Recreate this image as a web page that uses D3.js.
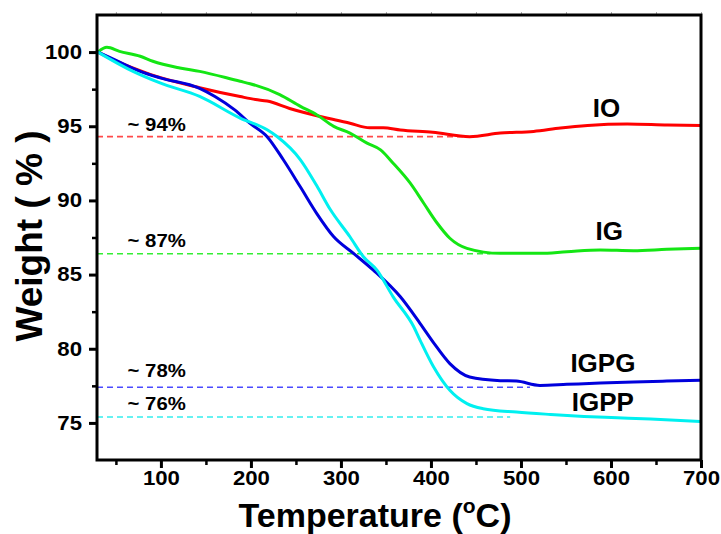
<!DOCTYPE html>
<html>
<head>
<meta charset="utf-8">
<script src="https://cdn.jsdelivr.net/npm/d3@7"></script>
<style>
  body { margin: 0; background: #fff; }
  text { font-family: "Liberation Sans", Arial, sans-serif; font-weight: bold; fill: #000; }
</style>
</head>
<body>
<script>
// TGA curves, temperature (°C) vs weight (%)
var ioTemp   = [30, 50, 88, 143, 188, 205, 218, 243, 288, 310, 332, 347, 366, 402, 443, 477, 514, 544, 574, 618, 663, 700];
var ioWeight = [100.0, 99.4, 98.5, 97.6, 97.0, 96.8, 96.7, 96.2, 95.5, 95.2, 94.9, 94.9, 94.75, 94.6, 94.3, 94.54, 94.65, 94.88, 95.05, 95.15, 95.08, 95.05];

var igTemp   = [30, 40, 54, 77, 91, 121, 143, 188, 199, 232, 255, 273, 292, 310, 329, 344, 358, 377, 392, 407, 421, 440, 477, 521, 551, 588, 625, 662, 700];
var igWeight = [100.0, 100.32, 100.05, 99.72, 99.38, 98.93, 98.7, 98.03, 97.87, 97.13, 96.34, 95.78, 94.99, 94.54, 93.86, 93.41, 92.51, 91.16, 89.81, 88.46, 87.45, 86.77, 86.43, 86.43, 86.54, 86.66, 86.61, 86.7, 86.77];

var igpgTemp   = [30, 43, 77, 99, 143, 160, 182, 199, 218, 236, 255, 273, 292, 314, 336, 366, 388, 403, 421, 443, 477, 495, 521, 551, 588, 625, 662, 700];
var igpgWeight = [100.0, 99.65, 98.7, 98.26, 97.55, 97.0, 96.1, 95.2, 94.3, 92.74, 90.9, 89.13, 87.55, 86.43, 85.3, 83.5, 81.7, 80.4, 79.0, 78.1, 77.85, 77.82, 77.53, 77.6, 77.69, 77.76, 77.82, 77.87];

var igppTemp   = [30, 69, 99, 143, 188, 218, 229, 255, 273, 288, 310, 325, 340, 358, 381, 388, 403, 421, 440, 458, 495, 533, 570, 607, 644, 700];
var igppWeight = [100.0, 98.7, 97.92, 97.01, 95.55, 94.76, 94.31, 92.74, 91.0, 89.4, 87.55, 86.2, 85.3, 83.5, 81.47, 80.57, 78.77, 77.2, 76.3, 75.96, 75.73, 75.57, 75.44, 75.35, 75.26, 75.1];

// series names, colours and where the name sits
var seriesNames  = ["IO", "IG", "IGPG", "IGPP"];
var seriesColors = ["#ff0000", "#14e614", "#0000dc", "#00f0f0"];
var nameTemp     = [595, 598, 591, 591];
var nameWeight   = [95.6, 87.35, 78.4, 75.8];

// residual-mass guide lines
var guideText   = ["~ 94%", "~ 87%", "~ 78%", "~ 76%"];
var guideLevel  = [94.3, 86.4, 77.4, 75.4];
var guideEnd    = [436, 466, 510, 488];
var guideColors = ["#ff4a4a", "#33ee33", "#4a4aff", "#33eeee"];
var guideLift   = [6, 7, 10, 7];

var xMajor = [100, 200, 300, 400, 500, 600, 700];
var xMinor = [50, 150, 250, 350, 450, 550, 650];
var yMajor = [75, 80, 85, 90, 95, 100];
var yMinor = [77.5, 82.5, 87.5, 92.5, 97.5];

// set the dimensions and margins of the graph
var margin = {top: 15, right: 20, bottom: 74, left: 97},
    width = 721 - margin.left - margin.right,
    height = 534 - margin.top - margin.bottom;

var svg = d3.select("body").append("svg")
    .attr("width", 721)
    .attr("height", 534)
  .append("g")
    .attr("transform", "translate(" + margin.left + "," + margin.top + ")");

var x = d3.scaleLinear().domain([29, 700]).range([0, width]);
var y = d3.scaleLinear().domain([72.5, 102.5]).range([height, 0]);

// dashed guides
guideLevel.forEach(function(lv, i) {
  svg.append("line")
      .attr("x1", x(29)).attr("x2", x(guideEnd[i]))
      .attr("y1", y(lv)).attr("y2", y(lv))
      .style("stroke", guideColors[i])
      .style("stroke-width", 1.6)
      .style("stroke-dasharray", "6,4");
  svg.append("text")
      .attr("transform", "translate(" + x(63) + "," + (y(lv) - guideLift[i]) + ") scale(1.13,1)")
      .attr("font-size", 18)
      .text(guideText[i]);
});

// curves
var line = d3.line()
    .x(function(d) { return x(d[0]); })
    .y(function(d) { return y(d[1]); })
    .curve(d3.curveMonotoneX);

var series = [
  d3.zip(ioTemp, ioWeight),
  d3.zip(igTemp, igWeight),
  d3.zip(igpgTemp, igpgWeight),
  d3.zip(igppTemp, igppWeight)
];

series.forEach(function(s, i) {
  svg.append("path")
      .datum(s)
      .attr("d", line)
      .style("fill", "none")
      .style("stroke", seriesColors[i])
      .style("stroke-width", 3)
      .style("stroke-linejoin", "round");
});

// series names
seriesNames.forEach(function(n, i) {
  svg.append("text")
      .attr("x", x(nameTemp[i]))
      .attr("y", y(nameWeight[i]))
      .attr("text-anchor", "middle")
      .attr("font-size", 26)
      .text(n);
});

// faint ticks on the top edge
svg.append("g")
    .call(d3.axisTop(x).tickValues(xMajor.concat(xMinor)).tickSize(3).tickFormat(""))
    .call(function(g) { g.select(".domain").remove(); })
    .selectAll("line").style("stroke", "#aaa").style("stroke-width", 1);

// bottom axis
var xAxis = svg.append("g")
    .attr("transform", "translate(0," + height + ")")
    .call(d3.axisBottom(x).tickValues(xMajor).tickSize(8).tickPadding(3));
xAxis.select(".domain").remove();
xAxis.selectAll("line").style("stroke-width", 3);
xAxis.selectAll("text")
    .attr("font-size", 20)
    .attr("font-family", null)
    .attr("transform", "scale(1.11,1)");

var xMinorAxis = svg.append("g")
    .attr("transform", "translate(0," + height + ")")
    .call(d3.axisBottom(x).tickValues(xMinor).tickSize(5).tickFormat(""));
xMinorAxis.select(".domain").remove();
xMinorAxis.selectAll("line").style("stroke-width", 2.5);

// left axis
var yAxis = svg.append("g")
    .call(d3.axisLeft(y).tickValues(yMajor).tickSize(8).tickPadding(5));
yAxis.select(".domain").remove();
yAxis.selectAll("line").style("stroke-width", 3);
yAxis.selectAll("text")
    .attr("font-size", 20)
    .attr("font-family", null)
    .attr("x", -13.5)
    .attr("transform", "scale(1.11,1)");

var yMinorAxis = svg.append("g")
    .call(d3.axisLeft(y).tickValues(yMinor).tickSize(5).tickFormat(""));
yMinorAxis.select(".domain").remove();
yMinorAxis.selectAll("line").style("stroke-width", 2.5);

// frame
svg.append("rect")
    .attr("width", width)
    .attr("height", height)
    .style("fill", "none")
    .style("stroke", "#000")
    .style("stroke-width", 3);

// axis titles
var xt = svg.append("text")
    .attr("x", 278)
    .attr("y", height + 67)
    .attr("text-anchor", "middle")
    .attr("font-size", 34);
xt.append("tspan").text("Temperature (");
xt.append("tspan").attr("font-size", 21).attr("dy", -14).text("o");
xt.append("tspan").attr("dy", 14).text("C)");

svg.append("text")
    .attr("transform", "translate(" + (42 - margin.left) + "," + (236 - margin.top) + ") rotate(-90)")
    .attr("text-anchor", "middle")
    .attr("font-size", 37)
    .text("Weight ( % )");
</script>
</body>
</html>
